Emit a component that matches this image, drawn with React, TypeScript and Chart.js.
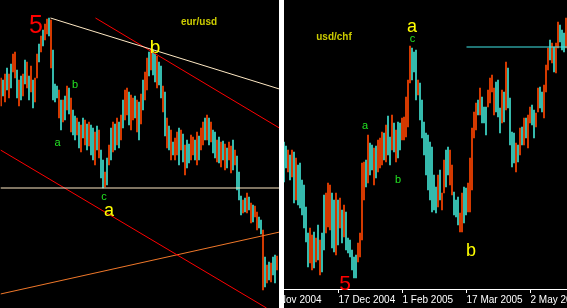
import React, { useEffect, useRef } from 'react';
import { Chart, registerables } from 'chart.js';
Chart.register(...registerables);

// ---------- EUR/USD daily bars (price x 10000), first day 26 Nov 2004 ----------
const eurStart = '2004-11-26';
const eurHigh = [
  13302, 13290, 13326, 13362, 13326, 13386, 13446, 13458, 13350, 13290,
  13314, 13326, 13410, 13398, 13314, 13374, 13290, 13302, 13446, 13506,
  13554, 13590, 13626, 13656, 13662, 13650, 13470, 13266, 13254, 13230,
  13170, 13170, 13194, 13254, 13242, 13182, 13110, 13074, 13062, 13038,
  13020, 13062, 13050, 13026, 13038, 13020, 13002, 12978, 13014, 12990,
  12870, 12810, 12738, 12822, 12900, 13002, 13038, 13026, 13062, 13038,
  13080, 13170, 13230, 13242, 13218, 13200, 13182, 13194, 13170, 13158,
  13206, 13290, 13338, 13422, 13458, 13476, 13470, 13446, 13434, 13398,
  13374, 13254, 13218, 13062, 13014, 12990, 12918, 12942, 12978, 13002,
  12990, 12966, 12900, 12930, 12906, 12960, 12948, 12930, 12978, 12954,
  13002, 13038, 13062, 13080, 13062, 13038, 12990, 12978, 12930, 12948,
  12918, 12924, 12906, 12882, 12918, 12894, 12930, 12870, 12834, 12738,
  12594, 12570, 12582, 12612, 12588, 12552, 12540, 12534, 12498, 12468,
  12450, 12390, 12228, 12180, 12198, 12192, 12228, 12240, 12234, null,
];
const eurLow = [
  13134, 13194, 13158, 13230, 13182, 13242, 13338, 13302, 13182, 13134,
  13170, 13194, 13266, 13242, 13170, 13218, 13122, 13158, 13302, 13398,
  13458, 13494, 13530, 13566, 13554, 13362, 13170, 13158, 13182, 13062,
  12990, 13038, 13050, 13110, 13086, 12978, 12960, 12930, 12960, 12882,
  12858, 12942, 12900, 12870, 12894, 12840, 12810, 12780, 12870, 12822,
  12702, 12642, 12648, 12660, 12780, 12810, 12858, 12870, 12900, 12882,
  12930, 13002, 13050, 13080, 13020, 12990, 13050, 13062, 12978, 12930,
  13026, 13110, 13170, 13230, 13314, 13350, 13320, 13278, 13242, 13260,
  13182, 13098, 12954, 12882, 12870, 12810, 12840, 12810, 12840, 12780,
  12870, 12798, 12720, 12762, 12792, 12810, 12840, 12810, 12780, 12810,
  12870, 12900, 12930, 12930, 12900, 12918, 12852, 12822, 12798, 12792,
  12768, 12810, 12750, 12762, 12810, 12732, 12750, 12780, 12630, 12570,
  12480, 12492, 12498, 12492, 12510, 12432, 12438, 12468, 12390, 12402,
  12366, 12030, 12048, 12072, 12090, 12078, 12120, 12072, 12150, null,
];
const eurDir =
  'udududuudu' + 'dudududuud' + 'uduududddu' + 'dudududdud' + 'udududdudu' +
  'ddudududud' + 'uduuduudud' + 'uduududdud' + 'dudududuud' + 'ududduudud' +
  'uudududdud' + 'ududuududd' + 'dudududuud' + 'dudududdud';
// trend lines: [day index, price x 10000]
const eurLineFrom = [[24.5, 13662], [47, 13662], [-0.5, 12642], [-0.5, 12870], [-0.5, 12006]];
const eurLineTo = [[139.5, 13234], [139.5, 12998], [139.5, 12642], [132.5, 11922], [139.5, 12379]];
const eurNoteText = ['5', 'b', 'a', 'b', 'a', 'c', 'eur/usd'];
const eurNoteAt = [[17.25, 13572], [76.75, 13452], [53.75, 12474], [36.75, 13242], [28, 12894], [51.25, 12570], [98.75, 13620]];

// ---------- USD/CHF daily bars (price x 10000), first day 1 Nov 2004 ----------
const chfStart = '2004-11-01';
const chfTickLabels = ['1 Nov 2004', '17 Dec 2004', '1 Feb 2005', '17 Mar 2005', '2 May 2005'];
const chfHigh = [
  null, null, null, null, null, null, null,
  11774, 11762, 11750,
  11735, 11750, 11744, 11726, 11705, 11711, 11660, 11645, 11579, 11501,
  11516, 11495, 11504, 11486, 11525, 11480, 11501, 11615, 11621, 11651,
  11645, 11621, 11600, 11621, 11600, 11606, 11570, 11585, 11564, 11486,
  11480, 11450, 11429, 11435, 11471, 11501, 11711, 11714, 11720, 11795,
  11771, 11765, 11756, 11762, 11780, 11786, 11804, 11801, 11825, 11852,
  11789, 11855, 11831, 11810, 11834, 11831, 11846, 11849, 11909, 11960,
  12062, 12056, 12044, 12050, 11960, 11951, 11900, 11834, 11801, 11795,
  11774, 11759, 11675, 11639, 11675, 11690, 11621, 11720, 11750, 11759,
  11750, 11705, 11624, 11600, 11609, 11561, 11621, 11639, 11636, 11651,
  11726, 11816, 11864, 11891, 11900, 11936, 11909, 11879, 11879, 11930,
  11966, 11975, 11936, 11954, 11960, 11876, 11930, 11924, 12014, 11996,
  11906, 11804, 11801, 11771, 11765, 11816, 11819, 11846, 11846, 11855,
  11879, 11885, 11870, 11861, 11936, 11939, 11924, 11945, 12005, 12056,
  12080, 12071, 12059, 12071, 12134, 12125, 12110, 12101, 12146,
];
const chfLow = [
  null, null, null, null, null, null, null,
  11654, 11696, 11684,
  11660, 11669, 11591, 11600, 11585, 11576, 11555, 11516, 11474, 11399,
  11411, 11390, 11396, 11414, 11420, 11375, 11384, 11450, 11501, 11519,
  11510, 11456, 11444, 11435, 11465, 11516, 11471, 11489, 11450, 11441,
  11429, 11390, 11366, 11366, 11414, 11429, 11480, 11600, 11639, 11651,
  11675, 11690, 11645, 11666, 11684, 11696, 11705, 11720, 11714, 11735,
  11705, 11750, 11744, 11714, 11726, 11750, 11780, 11780, 11789, 11819,
  11951, 11960, 11984, 11900, 11915, 11840, 11786, 11735, 11675, 11630,
  11600, 11564, 11570, 11561, 11579, 11600, 11570, 11621, 11639, 11675,
  11645, 11615, 11555, 11549, 11525, 11504, 11504, 11531, 11555, 11564,
  11564, 11630, 11786, 11810, 11855, 11855, 11831, 11831, 11795, 11879,
  11891, 11924, 11855, 11864, 11849, 11801, 11831, 11834, 11870, 11876,
  11765, 11699, 11711, 11684, 11714, 11735, 11765, 11765, 11786, 11756,
  11831, 11825, 11786, 11819, 11864, 11876, 11864, 11846, 11924, 11990,
  12020, 12011, 11984, 11981, 12056, 12074, 12050, 12044, 12056,
];
const chfDir =
  'ddddddd' + 'ddu' +
  'dududddddd' + 'uudududduu' + 'uddudududd' + 'dddduuuudu' + 'dduduuudud' +
  'dududduuuu' + 'uddduddddd' + 'dddduduudd' + 'uuddduuddu' + 'uuuududddu' +
  'uuudddudud' + 'dddudududu' + 'udduudduuu' + 'duduudddu';
const chfLineFrom = [[98, 12059]];
const chfLineTo = [[148.5, 12059]];
const chfNoteText = ['a', 'c', 'a', 'b', 'usd/chf', '5', 'b'];
const chfNoteAt = [[70.75, 12104], [71, 12074], [47.25, 11813], [63.75, 11651], [31.75, 12080], [37.25, 11330], [100.25, 11432]];

const MONTHS = ['Jan', 'Feb', 'Mar', 'Apr', 'May', 'Jun', 'Jul', 'Aug', 'Sep', 'Oct', 'Nov', 'Dec'];
function weekdayLabels(start: string, n: number): string[] {
  const out: string[] = [];
  const d = new Date(start + 'T00:00:00Z');
  while (out.length < n) {
    const wd = d.getUTCDay();
    if (wd !== 0 && wd !== 6) out.push(`${d.getUTCDate()} ${MONTHS[d.getUTCMonth()]} ${d.getUTCFullYear()}`);
    d.setUTCDate(d.getUTCDate() + 1);
  }
  return out;
}

const UP = '#ff4500';
const DOWN = '#40e0d0';
const SANS = '"Liberation Sans", Arial, sans-serif';
const YELLOW = '#ffff00';
const GREEN = '#22e022';

type NoteStyle = { font: string; color: string };

function notesPlugin(texts: string[], at: number[][], styles: NoteStyle[]) {
  return {
    id: 'notes',
    afterDatasetsDraw(chart: any) {
      const { ctx } = chart;
      const xs = chart.scales.xl;
      const ys = chart.scales.y;
      ctx.save();
      texts.forEach((t, k) => {
        ctx.font = styles[k].font;
        ctx.fillStyle = styles[k].color;
        ctx.textAlign = 'center';
        ctx.textBaseline = 'alphabetic';
        ctx.fillText(t, xs.getPixelForValue(at[k][0]), ys.getPixelForValue(at[k][1] / 10000));
      });
      ctx.restore();
    },
  };
}

function buildConfig(opts: {
  labels: string[];
  high: (number | null)[];
  low: (number | null)[];
  dir: string;
  lineFrom: number[][];
  lineTo: number[][];
  lineColors: string[];
  yMin: number;
  yMax: number;
  showAxis: boolean;
  tickLabels?: string[];
  noteText: string[];
  noteAt: number[][];
  noteStyles: NoteStyle[];
}): any {
  const n = opts.labels.length;
  const bars = opts.high.map((h, i) =>
    h == null || opts.low[i] == null ? null : [(opts.low[i] as number) / 10000, h / 10000]
  );
  const colors = opts.labels.map((_, i) => (opts.dir[i] === 'u' ? UP : DOWN));
  const lineSets = opts.lineFrom.map((f, k) => ({
    type: 'line',
    xAxisID: 'xl',
    yAxisID: 'y',
    data: [
      { x: f[0], y: f[1] / 10000 },
      { x: opts.lineTo[k][0], y: opts.lineTo[k][1] / 10000 },
    ],
    borderColor: opts.lineColors[k],
    borderWidth: 1,
    pointRadius: 0,
    fill: false,
    order: 0,
  }));
  return {
    type: 'bar',
    data: {
      labels: opts.labels,
      datasets: [
        {
          type: 'bar',
          xAxisID: 'x',
          yAxisID: 'y',
          data: bars,
          backgroundColor: colors,
          borderWidth: 0,
          barThickness: 1,
          order: 1,
        },
        ...lineSets,
      ],
    },
    options: {
      responsive: false,
      animation: false,
      devicePixelRatio: 1,
      layout: { padding: { left: 0.5, right: 0.5, top: 0, bottom: 0 } },
      plugins: { legend: { display: false }, tooltip: { enabled: false } },
      events: [],
      scales: {
        x: opts.showAxis
          ? {
              type: 'category',
              offset: true,
              grid: { display: true, drawOnChartArea: false, drawTicks: true, tickLength: 4, color: '#ffffff', offset: false },
              border: { display: true, color: '#ffffff', width: 1 },
              ticks: {
                autoSkip: false,
                maxRotation: 0,
                minRotation: 0,
                align: 'start',
                color: '#ffffff',
                padding: 1,
                font: { family: SANS, size: 10 },
                callback: (_v: any, i: number) => {
                  const l = opts.labels[i];
                  return opts.tickLabels && opts.tickLabels.includes(l) ? l : null;
                },
              },
              afterFit: (s: any) => {
                s.height = 19;
                s.paddingLeft = 0;
                s.paddingRight = 0;
              },
            }
          : { type: 'category', offset: true, display: false },
        xl: { type: 'linear', display: false, offset: false, grid: { offset: false }, min: -0.5, max: n - 0.5 },
        y: { type: 'linear', display: false, min: opts.yMin, max: opts.yMax },
      },
    },
    plugins: [notesPlugin(opts.noteText, opts.noteAt, opts.noteStyles)],
  };
}

function Panel({ width, height, config }: { width: number; height: number; config: () => any }) {
  const ref = useRef<HTMLCanvasElement>(null);
  useEffect(() => {
    const chart = new Chart(ref.current as HTMLCanvasElement, config());
    return () => chart.destroy();
  }, []);
  return (
    <canvas
      ref={ref}
      width={width}
      height={height}
      style={{ display: 'block', width, height, background: '#000' }}
    />
  );
}

export default function App() {
  const eurLabels = weekdayLabels(eurStart, 140);
  const chfLabels = weekdayLabels(chfStart, 149);
  const eurConfig = () =>
    buildConfig({
      labels: eurLabels,
      high: eurHigh,
      low: eurLow,
      dir: eurDir,
      lineFrom: eurLineFrom,
      lineTo: eurLineTo,
      lineColors: ['#ffe9c4', '#ff0000', '#ffe9c4', '#ff0000', '#f0782a'],
      yMin: 1.1922,
      yMax: 1.377,
      showAxis: false,
      noteText: eurNoteText,
      noteAt: eurNoteAt,
      noteStyles: [
        { font: `25px ${SANS}`, color: '#ff0000' },
        { font: `19px ${SANS}`, color: YELLOW },
        { font: `18px ${SANS}`, color: YELLOW },
        { font: `11px ${SANS}`, color: GREEN },
        { font: `11px ${SANS}`, color: GREEN },
        { font: `11px ${SANS}`, color: GREEN },
        { font: `bold 10px ${SANS}`, color: '#cccc00' },
      ],
    });
  const chfConfig = () =>
    buildConfig({
      labels: chfLabels,
      high: chfHigh,
      low: chfLow,
      dir: chfDir,
      lineFrom: chfLineFrom,
      lineTo: chfLineTo,
      lineColors: ['#40e8e8'],
      yMin: 1.1333,
      yMax: 1.22,
      showAxis: true,
      tickLabels: chfTickLabels,
      noteText: chfNoteText,
      noteAt: chfNoteAt,
      noteStyles: [
        { font: `18px ${SANS}`, color: YELLOW },
        { font: `11px ${SANS}`, color: GREEN },
        { font: `11px ${SANS}`, color: GREEN },
        { font: `11px ${SANS}`, color: GREEN },
        { font: `bold 10px ${SANS}`, color: '#cccc00' },
        { font: `21px ${SANS}`, color: '#ff0000' },
        { font: `18px ${SANS}`, color: YELLOW },
      ],
    });
  return (
    <div
      style={{ position: 'fixed', left: 0, top: 0, width: 567, height: 308, overflow: 'hidden', background: '#fff' }}
    >
      <div style={{ position: 'absolute', left: 269, top: 0, zIndex: 0 }}>
        <Panel width={299} height={308} config={chfConfig} />
      </div>
      <div style={{ position: 'absolute', left: 0, top: 0, zIndex: 1 }}>
        <Panel width={281} height={308} config={eurConfig} />
      </div>
      <div style={{ position: 'absolute', left: 279, top: 0, width: 5, height: 308, background: '#fff', zIndex: 2 }} />
    </div>
  );
}
